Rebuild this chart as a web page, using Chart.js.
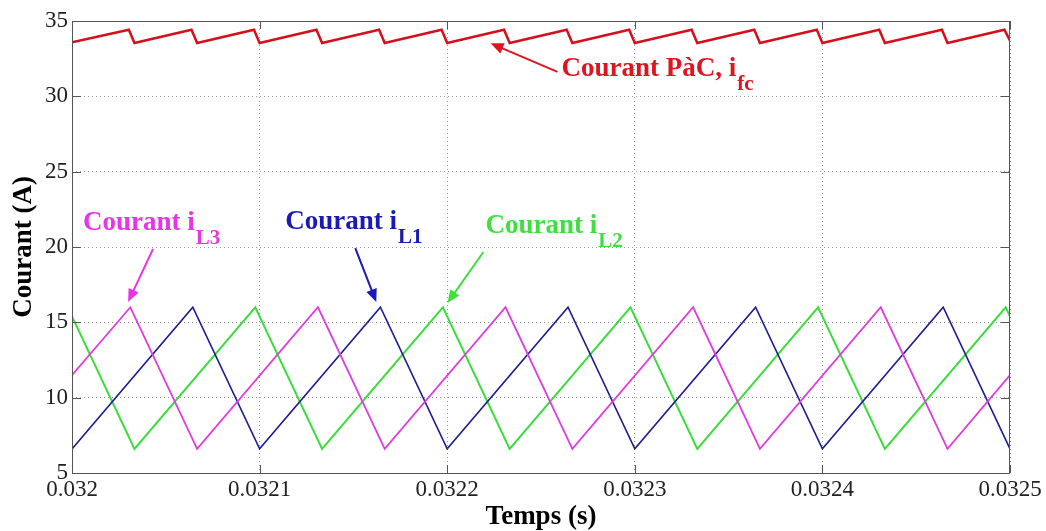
<!DOCTYPE html>
<html lang="fr">
<head>
  <meta charset="UTF-8" />
  <title>Courants PàC et inductances</title>
  <script src="https://cdn.jsdelivr.net/npm/chart.js"></script>
  <style>
    html, body {
      margin: 0;
      padding: 0;
      background: #fff;
    }
    #wrap {
      width: 1046px;
      height: 531px;
      position: relative;
    }
  </style>
</head>
<body>
  <div id="wrap">
    <canvas id="courants"></canvas>
  </div>

  <script>
    // Axes
    const xMin = 0.032, xMax = 0.0325;
    const yMin = 5, yMax = 35;
    const xTickValues = [0.032, 0.0321, 0.0322, 0.0323, 0.0324, 0.0325];
    const xTickLabels = ['0.032', '0.0321', '0.0322', '0.0323', '0.0324', '0.0325'];
    const yTickValues = [5, 10, 15, 20, 25, 30, 35];

    // Courant PàC i_fc (sommets de la dent de scie)
    const ifcTime = [
      0.0320000,
      0.0320303, 0.0320333, 0.0320637, 0.0320667, 0.0320970, 0.0321000,
      0.0321303, 0.0321333, 0.0321637, 0.0321667, 0.0321970, 0.0322000,
      0.0322303, 0.0322333, 0.0322637, 0.0322667, 0.0322970, 0.0323000,
      0.0323303, 0.0323333, 0.0323637, 0.0323667, 0.0323970, 0.0324000,
      0.0324303, 0.0324333, 0.0324637, 0.0324667, 0.0324970, 0.0325000
    ];
    const ifcValues = [
      33.58,
      34.42, 33.54, 34.42, 33.54, 34.42, 33.54,
      34.42, 33.54, 34.42, 33.54, 34.42, 33.54,
      34.42, 33.54, 34.42, 33.54, 34.42, 33.54,
      34.42, 33.54, 34.42, 33.54, 34.42, 33.54,
      34.42, 33.54, 34.42, 33.54, 34.42, 33.70
    ];

    // Courant i_L1 (bleu)
    const iL1Time = [0.0320000, 0.0320644, 0.0321000, 0.0321644, 0.0322000, 0.0322644,
                     0.0323000, 0.0323644, 0.0324000, 0.0324644, 0.0325000];
    const iL1Values = [6.6, 16.0, 6.6, 16.0, 6.6, 16.0, 6.6, 16.0, 6.6, 16.0, 6.6];

    // Courant i_L2 (vert)
    const iL2Time = [0.0320000, 0.0320333, 0.0320977, 0.0321333, 0.0321977, 0.0322333,
                     0.0322977, 0.0323333, 0.0323977, 0.0324333, 0.0324977, 0.0325000];
    const iL2Values = [15.4, 6.6, 16.0, 6.6, 16.0, 6.6, 16.0, 6.6, 16.0, 6.6, 16.0, 15.4];

    // Courant i_L3 (magenta)
    const iL3Time = [0.0320000, 0.0320311, 0.0320667, 0.0321311, 0.0321667, 0.0322311,
                     0.0322667, 0.0323311, 0.0323667, 0.0324311, 0.0324667, 0.0325000];
    const iL3Values = [11.5, 16.0, 6.6, 16.0, 6.6, 16.0, 6.6, 16.0, 6.6, 16.0, 6.6, 11.5];

    const toPoints = (xs, ys) => xs.map((x, i) => ({ x: x, y: ys[i] }));

    // Annotations (positions en unités des axes)
    const notes = [
      { text: 'Courant PàC, i', sub: 'fc', color: '#e0141e', x: 0.0322609, y: 31.35,
        from: [0.0322588, 31.62], to: [0.0322231, 33.52] },
      { text: 'Courant i', sub: 'L3', color: '#e635e6', x: 0.0320059, y: 21.13,
        from: [0.0320432, 19.87], to: [0.0320299, 16.35] },
      { text: 'Courant i', sub: 'L1', color: '#1a1ab4', x: 0.0321137, y: 21.2,
        from: [0.0321510, 19.93], to: [0.0321622, 16.35] },
      { text: 'Courant i', sub: 'L2', color: '#3ee03e', x: 0.0322204, y: 20.93,
        from: [0.0322193, 19.67], to: [0.0322001, 16.28] }
    ];

    const serif = "'Liberation Serif', 'Times New Roman', serif";

    const frameAndNotes = {
      id: 'frameAndNotes',
      afterDatasetsDraw(chart) {
        const { ctx, chartArea: a, scales } = chart;
        ctx.save();
        ctx.strokeStyle = '#555';
        ctx.lineWidth = 1;
        ctx.strokeRect(a.left + 0.5, a.top + 0.5, a.right - a.left - 1, a.bottom - a.top);
        // petites graduations intérieures
        ctx.beginPath();
        xTickValues.forEach(v => {
          const px = Math.round(scales.x.getPixelForValue(v)) + 0.5;
          ctx.moveTo(px, a.bottom); ctx.lineTo(px, a.bottom - 8);
          ctx.moveTo(px, a.top); ctx.lineTo(px, a.top + 8);
        });
        yTickValues.forEach(v => {
          const py = Math.round(scales.y.getPixelForValue(v)) + 0.5;
          ctx.moveTo(a.left, py); ctx.lineTo(a.left + 9, py);
          ctx.moveTo(a.right, py); ctx.lineTo(a.right - 9, py);
        });
        ctx.stroke();
        ctx.restore();
      },
      afterDraw(chart) {
        const { ctx, scales } = chart;
        ctx.save();
        notes.forEach(n => {
          const tx = scales.x.getPixelForValue(n.x);
          const ty = scales.y.getPixelForValue(n.y);
          ctx.fillStyle = n.color;
          ctx.strokeStyle = n.color;
          ctx.textBaseline = 'alphabetic';
          ctx.textAlign = 'left';
          ctx.font = 'bold 27px ' + serif;
          ctx.fillText(n.text, tx, ty);
          const w = ctx.measureText(n.text).width;
          ctx.font = 'bold 21px ' + serif;
          ctx.fillText(n.sub, tx + w + 1, ty + 14);

          // flèche
          const x0 = scales.x.getPixelForValue(n.from[0]);
          const y0 = scales.y.getPixelForValue(n.from[1]);
          const x1 = scales.x.getPixelForValue(n.to[0]);
          const y1 = scales.y.getPixelForValue(n.to[1]);
          const ang = Math.atan2(y1 - y0, x1 - x0);
          const head = 13, half = 5.5;
          ctx.lineWidth = 2;
          ctx.beginPath();
          ctx.moveTo(x0, y0);
          ctx.lineTo(x1 - Math.cos(ang) * head * 0.8, y1 - Math.sin(ang) * head * 0.8);
          ctx.stroke();
          ctx.beginPath();
          ctx.moveTo(x1, y1);
          ctx.lineTo(x1 - Math.cos(ang) * head - Math.sin(ang) * half,
                     y1 - Math.sin(ang) * head + Math.cos(ang) * half);
          ctx.lineTo(x1 - Math.cos(ang) * head + Math.sin(ang) * half,
                     y1 - Math.sin(ang) * head - Math.cos(ang) * half);
          ctx.closePath();
          ctx.fill();
        });
        ctx.restore();
      }
    };

    const ctx = document.getElementById('courants').getContext('2d');

    new Chart(ctx, {
      type: 'line',
      data: {
        datasets: [
          { label: 'i_fc', data: toPoints(ifcTime, ifcValues), borderColor: '#d4101c', borderWidth: 2.5 },
          { label: 'i_L3', data: toPoints(iL3Time, iL3Values), borderColor: '#dd3edd', borderWidth: 1.8 },
          { label: 'i_L1', data: toPoints(iL1Time, iL1Values), borderColor: '#1c1c90', borderWidth: 1.6 },
          { label: 'i_L2', data: toPoints(iL2Time, iL2Values), borderColor: '#3cdc3c', borderWidth: 2 }
        ]
      },
      options: {
        responsive: true,
        maintainAspectRatio: false,
        animation: false,
        events: [],
        layout: { padding: { left: 0, top: 21, right: 36, bottom: 0 } },
        elements: {
          point: { radius: 0 },
          line: { tension: 0, fill: false }
        },
        plugins: {
          legend: { display: false },
          tooltip: { enabled: false }
        },
        scales: {
          x: {
            type: 'linear',
            min: xMin,
            max: xMax,
            afterFit: s => { s.height = 58; },
            afterBuildTicks: s => { s.ticks = xTickValues.map(v => ({ value: v })); },
            ticks: {
              autoSkip: false,
              maxRotation: 0,
              padding: 3,
              color: '#222',
              font: { family: serif, size: 23 },
              callback: (v, i) => xTickLabels[i]
            },
            grid: {
              drawTicks: false,
              color: '#9a9a9a',
              lineWidth: 1
            },
            border: { display: false, dash: [1, 3] },
            title: {
              display: true,
              text: 'Temps (s)',
              color: '#000',
              padding: { top: 0, bottom: 0 },
              font: { family: serif, size: 27, weight: 'bold', lineHeight: 1 }
            }
          },
          y: {
            min: yMin,
            max: yMax,
            afterFit: s => { s.width = 72; },
            afterBuildTicks: s => { s.ticks = yTickValues.map(v => ({ value: v })); },
            ticks: {
              padding: 4,
              color: '#222',
              font: { family: serif, size: 23 }
            },
            grid: {
              drawTicks: false,
              color: '#9a9a9a',
              lineWidth: 1
            },
            border: { display: false, dash: [1, 3] },
            title: {
              display: true,
              text: 'Courant (A)',
              color: '#000',
              padding: { top: 11, bottom: 0 },
              font: { family: serif, size: 27, weight: 'bold', lineHeight: 1 }
            }
          }
        }
      },
      plugins: [frameAndNotes]
    });
  </script>
</body>
</html>
